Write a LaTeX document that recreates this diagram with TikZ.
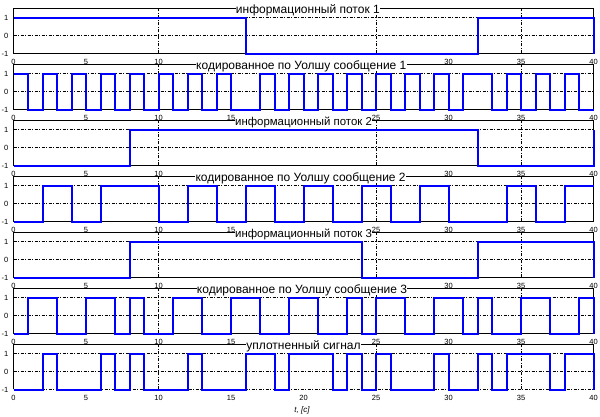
\documentclass[tikz,border=0pt]{standalone}
\usepackage{fontspec}
\setmainfont{Liberation Sans}
\definecolor{sigblue}{RGB}{0,0,255}
\newcommand\ttlfont{\fontsize{12}{13}\selectfont}
\newcommand\ttlsfont{\fontsize{11.4}{13}\selectfont}
\newcommand\tckfont{\fontsize{7.5}{8}\selectfont}
\newcommand\ytop{1.5}
\tikzset{
  sig/.style={draw=sigblue, line width=2pt, line join=miter},
  gridl/.style={draw=black, line width=0.7pt, dash pattern=on 3pt off 1.5pt on 1pt off 1.5pt},
  axisl/.style={draw=black, line width=0.9pt},
  tck/.style={font=\tckfont, inner sep=0pt},
  ttl/.style={font=\ttlfont, fill=white, inner xsep=0.3pt, inner ysep=0.5pt, text depth=0.5pt, anchor=base, yshift=-4.4pt},
  ttls/.style={ttl, font=\ttlsfont},
  panel/.style={xshift=13.5pt, x=14.5pt, y=18pt},
}
% frame, grid and tick labels of a panel; #1 = panel name, #2 = x tick labels shown
\newcommand\pframe[2]{%
  \begin{scope}[yshift=0.5pt]
  \draw[gridl] (0,0) -- (40,0) (0,1) -- (40,1)
    (10,-1) -- (10,\ytop) (25,-1) -- (25,\ytop) (35,-1) -- (35,\ytop);
  \draw[axisl] (0,-1) rectangle (40,\ytop);
  \end{scope}
  \node[tck, anchor=east, xshift=-5pt] (#1ya) at (0,1) {1};
  \node[tck, anchor=east, xshift=-5pt] (#1yb) at (0,0) {0};
  \node[tck, anchor=east, xshift=-5pt] (#1yc) at (0,-1) {-1};
  \foreach \t in {#2} \node[tck, yshift=-7.5pt] (#1x\t) at (\t,-1) {\t};
}
\begin{document}
\begin{tikzpicture}[x=1pt,y=1pt]
\useasboundingbox (0,0) rectangle (600,417);
\fill[white] (0,0) rectangle (600,417);

% panel 1
\begin{scope}[panel, yshift=381pt]
  \pframe{pa}{0,5,10,30,35,40}
  \draw[sig] (0,1) -- (16,1) -- (16,-1) -- (32,-1) -- (32,1) -- (40,1) -- (40,-1);
  \node[ttl] (ta) at (20.3,\ytop) {информационный поток 1};
\end{scope}

% panel 2
\begin{scope}[panel, yshift=325pt]
  \pframe{pb}{0,5,10,15,25,30,35,40}
  \draw[sig] (0,1) -| (1,-1) -| (2,1) -| (3,-1) -| (4,1) -| (5,-1) -| (6,1) -| (7,-1) -| (8,1) -| (9,-1) -| (10,1) -| (11,-1) -| (12,1) -| (13,-1) -| (14,1) -| (15,-1) -| (17,1) -| (18,-1) -| (19,1) -| (20,-1) -| (21,1) -| (22,-1) -| (23,1) -| (24,-1) -| (25,1) -| (26,-1) -| (27,1) -| (28,-1) -| (29,1) -| (30,-1) -| (31,1) -| (33,-1) -| (34,1) -| (35,-1) -| (36,1) -| (37,-1) -| (38,1) -| (39,-1) -- (40,-1);
  \node[ttl] (tb) at (19.85,\ytop) {кодированное по Уолшу сообщение 1};
\end{scope}

% panel 3
\begin{scope}[panel, yshift=269pt]
  \pframe{pc}{0,5,10,30,35,40}
  \draw[sig] (0,-1) -- (8,-1) -- (8,1) -- (32,1) -- (32,-1) -- (40,-1) -- (40,1);
  \node[ttls] (tc) at (20.0,\ytop) {информационный поток 2};
\end{scope}

% panel 4
\begin{scope}[panel, yshift=213pt]
  \pframe{pd}{0,5,10,15,25,30,35,40}
  \draw[sig] (0,-1) -| (2,1) -| (4,-1) -| (6,1) -| (10,-1) -| (12,1) -| (14,-1) -| (16,1) -| (18,-1) -| (20,1) -| (22,-1) -| (24,1) -| (26,-1) -| (28,1) -| (30,-1) -| (34,1) -| (36,-1) -| (38,1) -- (40,1);
  \node[ttl] (td) at (19.8,\ytop) {кодированное по Уолшу сообщение 2};
\end{scope}

% panel 5
\begin{scope}[panel, yshift=157pt]
  \pframe{pe}{0,5,10,30,35,40}
  \draw[sig] (0,-1) -- (8,-1) -- (8,1) -- (24,1) -- (24,-1) -- (32,-1) -- (32,1) -- (40,1) -- (40,-1);
  \node[ttls] (te) at (20.0,\ytop) {информационный поток 3};
\end{scope}

% panel 6
\begin{scope}[panel, yshift=101pt]
  \pframe{pf}{0,5,10,15,25,30,35,40}
  \draw[sig] (0,-1) -| (1,1) -| (3,-1) -| (5,1) -| (7,-1) -| (8,1) -| (9,-1) -| (11,1) -| (13,-1) -| (15,1) -| (17,-1) -| (19,1) -| (21,-1) -| (23,1) -| (24,-1) -| (25,1) -| (27,-1) -| (29,1) -| (31,-1) -| (32,1) -| (33,-1) -| (35,1) -| (37,-1) -| (39,1) -- (40,1) -- (40,-1);
  \node[ttl] (tf) at (19.9,\ytop) {кодированное по Уолшу сообщение 3};
\end{scope}

% panel 7
\begin{scope}[panel, yshift=45pt]
  \begin{scope}[yshift=0.5pt]
  \draw[gridl] (0,-1) -- (40,-1) (0,0) -- (40,0) (0,1) -- (40,1)
    (10,-1) -- (10,\ytop) (25,-1) -- (25,\ytop) (35,-1) -- (35,\ytop);
  \draw[axisl] (0,-1) -- (0,\ytop) -- (40,\ytop) -- (40,-1);
  \end{scope}
  \node[tck, anchor=east, xshift=-5pt] (pgya) at (0,1) {1};
  \node[tck, anchor=east, xshift=-5pt] (pgyb) at (0,0) {0};
  \node[tck, anchor=east, xshift=-5pt] (pgyc) at (0,-1) {-1};
  \foreach \t in {0,5,...,40} \node[tck, yshift=-7.5pt] (pgx\t) at (\t,-1) {\t};
  \draw[sig] (0,-1) -| (2,1) -| (3,-1) -| (6,1) -| (7,-1) -| (8,1) -| (9,-1) -| (12,1) -| (13,-1) -| (16,1) -| (18,-1) -| (19,1) -| (22,-1) -| (23,1) -| (24,-1) -| (25,1) -| (26,-1) -| (29,1) -| (30,-1) -| (32,1) -| (33,-1) -| (34,1) -| (37,-1) -| (38,1) -- (40,1) -- (40,-1);
  \node[ttl] (tg) at (20.0,\ytop) {уплотненный сигнал};
\end{scope}

\node[font=\fontsize{8}{9}\selectfont\itshape, inner sep=0pt] (xlab) at (302,7) {t, [с]};
\end{tikzpicture}
\end{document}
